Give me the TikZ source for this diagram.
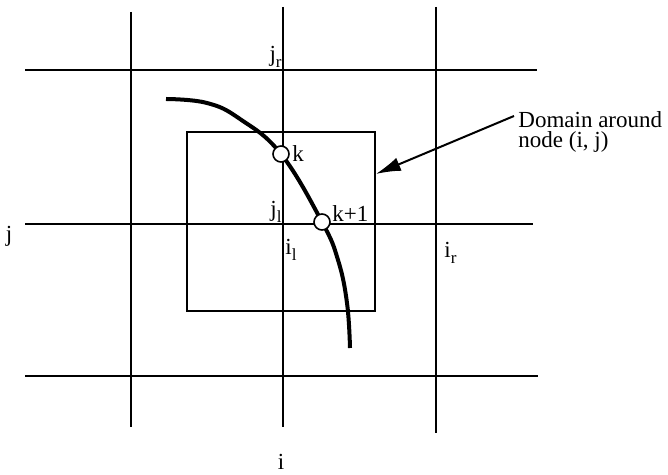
\documentclass[tikz,border=0pt]{standalone}
\usepackage{fontspec}
\setmainfont{Liberation Serif}
\usetikzlibrary{arrows.meta,positioning}
\newcommand{\idx}[2]{#1\raisebox{-0.55ex}{\fontsize{8.5}{9}\selectfont #2}}

\begin{document}
\begin{tikzpicture}[x=0.5pt, y=-0.5pt,
  grid/.style={line width=1pt},
  cellbox/.style={draw, line width=0.8pt, minimum width=94pt,
                  minimum height=89.5pt, inner sep=0pt},
  pt/.style={circle, draw, fill=white, line width=0.8pt,
             minimum size=8pt, inner sep=0pt},
  lab/.style={font=\fontsize{11.5}{10}\selectfont, inner sep=0pt},
  pointer/.style={-{Latex[length=12.5pt,width=7pt]}, line width=1pt}
]
  \useasboundingbox (0,0) rectangle (668,475);
  % grid
  \foreach \y/\e in {70/537, 224/533, 376/538}
    \draw[grid] (25,\y) -- (\e,\y);
  \foreach \x/\a/\b in {131/12/427, 283/7/427, 436/7/433}
    \draw[grid] (\x,\a) -- (\x,\b);
  \node[cellbox] (cell) at (281,221.5) {};
  % interface curve
  \coordinate (pk)  at (281,154);
  \coordinate (pk1) at (322,222);
  \draw[line width=2pt] plot[smooth, tension=0.7] coordinates
    {(166,99) (207,103) (240,119) (pk) (pk1) (338,260) (347,303) (350,348)};
  \node[pt] (k)  at (pk)  {};
  \node[pt] (k1) at (pk1) {};
  % labels
  \node[lab, anchor=base west] (kl)  at (292,162) {k};
  \node[lab, anchor=base west] (k1l) at (332,222) {k+1};
  \node[lab, anchor=base east] (jr) at (282,62)  {\idx{j}{r}};
  \node[lab, anchor=base east] (jl) at (282,217) {\idx{j}{l}};
  \node[lab, anchor=base west] (il) at (285,255) {\idx{i}{l}};
  \node[lab, anchor=base west] (ir) at (444,258) {\idx{i}{r}};
  \node[lab] (jj) at (9,236)   {j};
  \node[lab] (ii) at (281,462) {i};
  \node[lab, anchor=north west, align=left] (dom) at (518,111)
    {Domain around\\node (i, j)};
  \draw[pointer] ([xshift=-2pt,yshift=-2.5pt]dom.north west)
    -- ([yshift=23.75pt]cell.east);
\end{tikzpicture}
\end{document}
